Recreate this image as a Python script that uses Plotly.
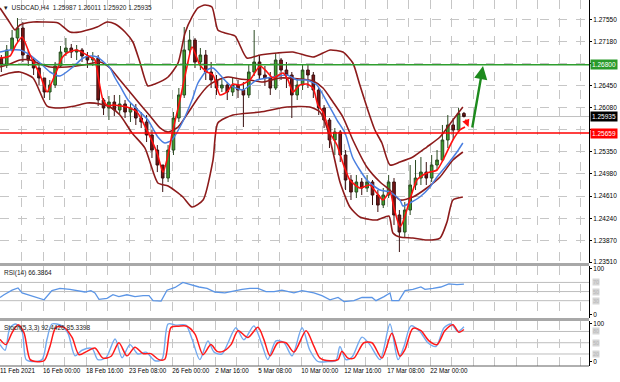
import plotly.graph_objects as go

FONT = "Liberation Sans"

# ---------------- price candles (2 x H4 per candle, bar index in H4 units) ----------------
N_CANDLES = 87
CANDLE_BAR = [0.5 + 2 * j for j in range(N_CANDLES)]
FIRST_OPEN = 1.26910
CLOSE = [1.26794, 1.27044, 1.27244, 1.27410, 1.26960, 1.26877, 1.26744, 1.26577, 1.26344, 1.26460,
         1.26777, 1.27010, 1.27077, 1.27010, 1.27044, 1.26944, 1.26877, 1.26910, 1.26210, 1.26077,
         1.26177, 1.26044, 1.26144, 1.26010, 1.26077, 1.25910, 1.25844, 1.25627, 1.25377, 1.25127,
         1.24910, 1.25377, 1.25910, 1.26294, 1.27044, 1.27210, 1.26844, 1.26960, 1.26677, 1.26544,
         1.26410, 1.26460, 1.26344, 1.26460, 1.26377, 1.26294, 1.26677, 1.26844, 1.26627, 1.26577,
         1.26410, 1.26877, 1.26710, 1.26627, 1.26294, 1.26460, 1.26710, 1.26627, 1.26377, 1.26077,
         1.25877, 1.25544, 1.25677, 1.25294, 1.24877, 1.24677, 1.24844, 1.24744, 1.24844, 1.24627,
         1.24460, 1.24627, 1.24844, 1.24294, 1.24010, 1.24377, 1.24794, 1.24910, 1.25010, 1.24910,
         1.25127, 1.25210, 1.25544, 1.25794, 1.25710, 1.25987, 1.25935]
HIGH = [1.26960, 1.27127, 1.27377, 1.27577, 1.27510, 1.27044, 1.26910, 1.26794, 1.26577, 1.26544,
        1.26844, 1.27110, 1.27244, 1.27144, 1.27127, 1.27077, 1.27010, 1.27010, 1.26960, 1.26244,
        1.26277, 1.26294, 1.26294, 1.26210, 1.26177, 1.26144, 1.26010, 1.25960, 1.25710, 1.25460,
        1.25127, 1.25460, 1.26010, 1.26410, 1.27427, 1.27377, 1.27244, 1.27077, 1.27044, 1.26844,
        1.26627, 1.26577, 1.26510, 1.26577, 1.26544, 1.26510, 1.26794, 1.27377, 1.26960, 1.26777,
        1.26677, 1.26994, 1.26910, 1.26844, 1.26677, 1.26577, 1.26794, 1.26794, 1.26677, 1.26410,
        1.26127, 1.25910, 1.25744, 1.25710, 1.25377, 1.24960, 1.24960, 1.24910, 1.24960, 1.24877,
        1.24710, 1.24744, 1.24960, 1.24910, 1.24377, 1.24510, 1.25127, 1.25210, 1.25260, 1.25177,
        1.25294, 1.25377, 1.25794, 1.25960, 1.25910, 1.26077, 1.26011]
LOW = [1.26677, 1.26744, 1.27010, 1.27177, 1.26844, 1.26777, 1.26627, 1.26460, 1.26244, 1.26210,
       1.26410, 1.26744, 1.26944, 1.26910, 1.26877, 1.26844, 1.26744, 1.26777, 1.26110, 1.25960,
       1.25877, 1.25944, 1.25977, 1.25910, 1.25844, 1.25794, 1.25744, 1.25510, 1.25244, 1.25010,
       1.24677, 1.24844, 1.25294, 1.25844, 1.26244, 1.26960, 1.26744, 1.26710, 1.26544, 1.26410,
       1.26294, 1.26344, 1.26210, 1.26277, 1.26244, 1.25760, 1.26244, 1.26610, 1.26544, 1.26444,
       1.26294, 1.26377, 1.26544, 1.26410, 1.25910, 1.26210, 1.26377, 1.26410, 1.26244, 1.25960,
       1.25744, 1.25410, 1.25294, 1.25177, 1.24710, 1.24544, 1.24577, 1.24627, 1.24677, 1.24460,
       1.24344, 1.24410, 1.24577, 1.24127, 1.23677, 1.23910, 1.24294, 1.24710, 1.24794, 1.24794,
       1.24844, 1.25044, 1.25177, 1.25410, 1.25544, 1.25710, 1.25920]
OPEN = [FIRST_OPEN] + CLOSE[:-1]

# ---------------- Bollinger bands & moving averages ----------------
UPPER_BAR = [0, 3, 5.6, 7.4, 12.3, 16, 21.6, 26, 29.7, 36.1, 39.8, 42.8, 46.5, 49.4, 52, 55, 57.6, 62.5,
             66.2, 68.8, 71.4, 73.6, 76.2, 78.8, 81, 83.6, 87.4, 91.8, 96.7, 103, 108.9, 116.4, 120.1,
             122.7, 127.5, 131.2, 133.8, 136.4, 139.4, 142, 145, 148.7, 153.5, 158.7, 163.6, 168.4, 172.1]
UPPER = [1.27744, 1.27544, 1.27377, 1.27460, 1.27510, 1.27510, 1.27494, 1.27344, 1.27344, 1.27427,
         1.27510, 1.27477, 1.27344, 1.27177, 1.26844, 1.26444, 1.26477, 1.26594, 1.26827, 1.27327,
         1.27594, 1.27744, 1.27794, 1.27760, 1.27377, 1.27327, 1.27277, 1.26910, 1.26960, 1.26994,
         1.27010, 1.26927, 1.26994, 1.27044, 1.27010, 1.26827, 1.26460, 1.26094, 1.25710, 1.25494,
         1.25127, 1.25177, 1.25260, 1.25427, 1.25594, 1.25877, 1.26094]

MIDDLE_BAR = [0, 3.7, 7.4, 11.2, 14.9, 18.6, 24.9, 30.9, 37.2, 40.9, 44.6, 48.3, 52, 55.8, 59.5, 62.5,
              66.2, 69.9, 73.6, 77.3, 81, 84.8, 89.2, 92.9, 97.8, 104.1, 111.5, 116.4, 120.1, 123.8,
              127.5, 131.2, 136.4, 141.3, 145, 148.7, 153.5, 158.7, 163.6, 168.4, 172.1]
MIDDLE = [1.26760, 1.26810, 1.26877, 1.26877, 1.26810, 1.26760, 1.26760, 1.26794, 1.26844, 1.26744,
          1.26544, 1.26344, 1.26144, 1.25944, 1.25744, 1.25677, 1.25760, 1.25994, 1.26244, 1.26444,
          1.26544, 1.26594, 1.26560, 1.26544, 1.26510, 1.26577, 1.26560, 1.26527, 1.26410, 1.26177,
          1.25927, 1.25544, 1.25094, 1.24844, 1.24710, 1.24544, 1.24594, 1.24744, 1.24927, 1.25210,
          1.25344]

LOWER_BAR = [0, 3.7, 7.4, 12.3, 17.5, 22.3, 27.9, 32.3, 37.2, 40.9, 44.6, 49.1, 53.9, 58.7, 62.5, 68,
             71.4, 75.5, 79.2, 81, 86.6, 96.7, 106.7, 115.2, 119, 121.6, 123.8, 126.4, 130.1, 133.8,
             140.1, 144.6, 146.1, 148.7, 153.5, 158.7, 163.6, 166.2, 168.4, 172.1]
LOWER = [1.26610, 1.26660, 1.26677, 1.26577, 1.26110, 1.26077, 1.26110, 1.26160, 1.26144, 1.26094,
         1.25960, 1.25660, 1.25410, 1.24827, 1.24777, 1.24594, 1.24427, 1.24544, 1.25210, 1.25827,
         1.25960, 1.26010, 1.26094, 1.26094, 1.26010, 1.25744, 1.25344, 1.24844, 1.24427, 1.24260,
         1.24210, 1.24277, 1.23994, 1.23927, 1.23910, 1.23877, 1.23910, 1.24177, 1.24544, 1.24594]

BLUE_BAR = [0, 3.7, 7.4, 11.2, 14.9, 18.6, 22.3, 27.1, 30.9, 33.5, 36.1, 40.9, 42.8, 44.6, 47.6, 51.3,
            55, 58.7, 61.3, 63.9, 67.7, 71.4, 73.6, 77, 79.2, 82.5, 85.5, 90.3, 95.5, 101.5, 106.7,
            110.4, 114.1, 117.8, 121.6, 125.3, 128.3, 131.2, 136.4, 141.3, 145, 148.7, 149.8, 152.4,
            156.1, 159.9, 162.5, 166.2, 169.9, 172.1]
BLUE_MA = [1.27010, 1.27044, 1.27044, 1.26960, 1.26827, 1.26677, 1.26610, 1.26760, 1.26910, 1.26944,
           1.26927, 1.26744, 1.26577, 1.26444, 1.26210, 1.26044, 1.25877, 1.25594, 1.25494, 1.25544,
           1.25827, 1.26210, 1.26494, 1.26710, 1.26744, 1.26594, 1.26460, 1.26377, 1.26544, 1.26594,
           1.26627, 1.26544, 1.26544, 1.26460, 1.26177, 1.25877, 1.25660, 1.25244, 1.24877, 1.24710,
           1.24677, 1.24544, 1.24444, 1.24494, 1.24594, 1.24760, 1.24927, 1.25127, 1.25344, 1.25494]

RED_BAR = [0, 3.7, 5.9, 8.2, 11.2, 14.9, 17.5, 19.3, 21.2, 23, 24.9, 28.6, 33.5, 35.3, 36.4, 38.3, 40.1,
           42, 47.2, 50.9, 54.6, 58.4, 60.6, 62.5, 63.9, 66.9, 69.5, 71.4, 74.3, 77, 79.2, 81.8, 84.4,
           86.6, 89.2, 92.9, 96.7, 99.3, 101.5, 105.2, 107.1, 108.9, 111.5, 114.1, 116.4, 118.2, 120.1,
           122.7, 125.3, 127.5, 130.1, 133.8, 137.5, 140.1, 142.4, 145, 146.5, 148.7, 149.8, 152.4,
           155, 158.7, 162.5, 164.7, 168.4, 171, 172.9]
RED_MA = [1.26910, 1.26944, 1.27127, 1.27260, 1.26960, 1.26627, 1.26344, 1.26510, 1.26710, 1.26910,
          1.26994, 1.27044, 1.26927, 1.26877, 1.26627, 1.26210, 1.26110, 1.26127, 1.26094, 1.26010,
          1.25710, 1.25327, 1.25010, 1.25294, 1.25627, 1.26210, 1.26760, 1.27094, 1.26794, 1.26677,
          1.26627, 1.26294, 1.26344, 1.26477, 1.26460, 1.26544, 1.26777, 1.26677, 1.26577, 1.26660,
          1.26544, 1.26344, 1.26460, 1.26477, 1.26410, 1.26127, 1.26010, 1.25660, 1.25460, 1.25160,
          1.24877, 1.24744, 1.24794, 1.24660, 1.24544, 1.24677, 1.24410, 1.24094, 1.24177, 1.24544,
          1.24877, 1.24994, 1.25044, 1.25210, 1.25544, 1.25710, 1.25760]

GREEN_LEVEL = 1.26800
RED_LEVEL = 1.25659
LAST_PRICE = 1.25935

# ---------------- RSI(14) ----------------
RSI_BAR = [0, 1.5, 4.5, 6.7, 8.2, 11.9, 16.4, 19.3, 22.3, 26, 29.7, 31.6, 33.8, 35.3, 36.8, 39.8, 42,
           44.2, 47.2, 50.2, 53.2, 55.4, 56.9, 59.9, 62.1, 65.1, 68, 71, 74, 77, 79.9, 83.6, 87, 90,
           92.9, 95.9, 98.9, 101.9, 104.8, 109.3, 112.3, 116.7, 119.7, 122.7, 125.7, 127.9, 131.6,
           134.6, 138.3, 139.8, 142.8, 145, 145.7, 148.3, 150.6, 153.5, 156.5, 158, 161, 163.9, 166.9,
           169.9, 172.5]
RSI = [37, 43, 53, 58, 47, 40, 32, 52, 57, 55, 51, 49, 52, 47, 33, 35, 43, 39, 43, 39, 41, 41, 30, 29,
       53, 59, 70, 65, 60, 57, 49, 47, 52, 55, 57, 57, 50, 50, 53, 47, 52, 47, 41, 32, 37, 28, 30, 37,
       37, 30, 39, 47, 30, 30, 52, 55, 60, 55, 57, 60, 67, 65, 66.3864]
RSI_LEVELS = [70, 50, 30]

# ---------------- Stochastic(5,3,3) ----------------
STOCH_K_BAR = [0, 1.9, 3.7, 5.9, 8.2, 9.7, 11.9, 15.6, 17.5, 19.3, 23, 25.3, 27.9, 30.5, 34.2, 36.4,
               39.4, 42.8, 45.4, 48.3, 51.3, 54.3, 57.6, 60.2, 62.5, 65.4, 69.1, 71.4, 74.3, 77.3, 79.6,
               82.5, 84.8, 87.7, 90.7, 94.4, 97.4, 99.6, 102.6, 105.6, 108.6, 112.3, 115.2, 118.2,
               121.9, 124.9, 126.4, 128.6, 130.9, 134.6, 137.5, 141.3, 145, 148, 150.2, 152.8, 156.1,
               159.1, 162.1, 165.1, 167.7, 170.3, 172.5]
STOCH_K = [45, 30, 90, 100, 80, 5, 0, 5, 60, 100, 95, 75, 15, 30, 35, 5, 10, 60, 10, 45, 20, 25, 2, 5,
           100, 97, 97, 60, 5, 55, 25, 20, 50, 90, 58, 95, 45, 5, 55, 50, 15, 90, 30, 0, 0, 3, 40, 5,
           12, 65, 45, 5, 100, 5, 40, 95, 80, 50, 40, 90, 100, 80, 92.4426]
STOCH_D_BAR = [0, 2.2, 4.5, 6.7, 8.9, 11.2, 13.4, 16.4, 18.6, 20.8, 23.8, 26.8, 29.4, 32.3, 35.3, 38.3,
               41.3, 44.2, 47.2, 50.2, 53.2, 56.1, 59.1, 61.3, 63.6, 66.5, 69.5, 72.5, 75.5, 78.4, 80.7,
               82.9, 85.9, 88.5, 92.2, 95.9, 98.1, 100.4, 103.3, 106.3, 109.3, 113.8, 116.7, 119, 122.7,
               125.7, 127.1, 129.4, 131.6, 135.3, 138.3, 142, 145.7, 148.7, 150.6, 153.5, 156.5, 159.5,
               162.5, 165.4, 168.4, 170.6, 172.5]
STOCH_D = [59, 45, 77, 98, 77, 5, 0, 2, 41, 91, 91, 64, 18, 27, 36, 9, 14, 50, 15, 38, 21, 21, 5, 6, 91,
           94, 94, 73, 18, 45, 27, 27, 45, 82, 64, 91, 59, 15, 50, 50, 25, 82, 41, 9, 2, 5, 27, 9, 9, 50,
           50, 9, 75, 14, 32, 88, 82, 55, 45, 82, 98, 78, 85.3398]
STOCH_LEVELS = [80, 50, 20]

# ---------------- axes labels ----------------
PRICE_TICKS = [1.27550, 1.27180, 1.26815, 1.26450, 1.26080, 1.25715, 1.25350, 1.24980, 1.24610,
               1.24240, 1.23870, 1.23510]
PRICE_TICKTEXT = ["1.27550", "1.27180", "", "1.26450", "1.26080", "", "1.25350", "1.24980",
                  "1.24610", "1.24240", "1.23870", "1.23510"]
DATE_TICKS = [0, 16, 32, 48, 64, 80, 96, 112, 128, 144, 160]
DATE_LABELS = ["11 Feb 2021", "16 Feb 00:00", "18 Feb 16:00", "23 Feb 08:00", "26 Feb 00:00",
               "2 Mar 16:00", "5 Mar 08:00", "10 Mar 00:00", "12 Mar 16:00", "17 Mar 08:00",
               "22 Mar 00:00"]

X_RANGE = [0, 219]
PRICE_RANGE = [1.23494, 1.27877]

GRID = "#c6c6c6"
fig = go.Figure()

fig.add_trace(go.Candlestick(
    x=CANDLE_BAR, open=OPEN, high=HIGH, low=LOW, close=CLOSE,
    xaxis="x", yaxis="y", whiskerwidth=0, hoverinfo="skip", showlegend=False,
    increasing=dict(line=dict(color="#2b4a22", width=1), fillcolor="#3fa12e"),
    decreasing=dict(line=dict(color="#3a1010", width=1), fillcolor="#7a1515"),
))

def line(xs, ys, color, width, ax="x", ay="y", shape="spline", smooth=0.6):
    fig.add_trace(go.Scatter(x=xs, y=ys, mode="lines", xaxis=ax, yaxis=ay, hoverinfo="skip",
                             showlegend=False, line=dict(color=color, width=width, shape=shape,
                                                         smoothing=smooth if shape == "spline" else None)))

BAND = "#8c1b1b"
line(UPPER_BAR, UPPER, BAND, 1.6)
line(MIDDLE_BAR, MIDDLE, BAND, 1.6)
line(LOWER_BAR, LOWER, BAND, 1.6)
line(BLUE_BAR, BLUE_MA, "#4a7fe0", 1.5)
line(RED_BAR, RED_MA, "#ff1010", 1.6)

line(RSI_BAR, RSI, "#5b95e6", 1.3, "x2", "y2", "linear")
line(STOCH_K_BAR, STOCH_K, "#73a9ee", 1.4, "x3", "y3", "spline", 0.8)
line(STOCH_D_BAR, STOCH_D, "#ff1a1a", 1.5, "x3", "y3", "spline", 0.8)

# horizontal levels
fig.add_hline(y=LAST_PRICE, line=dict(color="#c0c0c0", width=1), yref="y", layer="below")
fig.add_hline(y=GREEN_LEVEL, line=dict(color="#2e9e2e", width=1.5), yref="y")
fig.add_hline(y=RED_LEVEL, line=dict(color="#ff0000", width=1.5), yref="y")
for lv in RSI_LEVELS:
    fig.add_hline(y=lv, line=dict(color="#bdbdbd", width=1), yref="y2", layer="below")
for lv in STOCH_LEVELS:
    fig.add_hline(y=lv, line=dict(color="#bdbdbd", width=1), yref="y3", layer="below")

# arrows
fig.add_annotation(x=179.6, y=1.26777, ax=175.5, ay=1.25727, xref="x", yref="y", axref="x", ayref="y",
                   showarrow=True, arrowhead=2, arrowsize=1.1, arrowwidth=2.4, arrowcolor="#1d8a1d", text="")
fig.add_annotation(x=174.2, y=1.25760, ax=172.9, ay=1.25910, xref="x", yref="y", axref="x", ayref="y",
                   showarrow=True, arrowhead=2, arrowsize=1, arrowwidth=1.5, arrowcolor="#ff1010", text="")

# price boxes on the right axis
for val, bg in [(GREEN_LEVEL, "#2a9a2a"), (LAST_PRICE, "#000000"), (RED_LEVEL, "#ff0000")]:
    fig.add_annotation(x=1, xref="paper", y=val, yref="y", text=f"{val:.5f}", showarrow=False,
                       xanchor="left", xshift=1, bgcolor=bg, borderpad=1,
                       font=dict(color="white", size=6.5, family=FONT))

# level boxes on indicator axes
for lv in RSI_LEVELS:
    fig.add_annotation(x=1, xref="paper", y=lv, yref="y2", text=str(lv), showarrow=False,
                       xanchor="left", xshift=3, bgcolor="#d6d6d6", borderpad=0,
                       font=dict(color="#b8b8b8", size=5.5, family=FONT))
for lv in STOCH_LEVELS:
    fig.add_annotation(x=1, xref="paper", y=lv, yref="y3", text=str(lv), showarrow=False,
                       xanchor="left", xshift=3, bgcolor="#d6d6d6", borderpad=0,
                       font=dict(color="#b8b8b8", size=5.5, family=FONT))

# panel titles
TXT = dict(family=FONT, size=6.5, color="#222222")
fig.add_annotation(x=0.004, y=0.995, xref="paper", yref="paper", xanchor="left", yanchor="top",
                   text="▾  USDCAD,H4  1.25987 1.26011 1.25920 1.25935", showarrow=False, font=TXT)
fig.add_annotation(x=0.004, y=0.2732, xref="paper", yref="paper", xanchor="left", yanchor="top",
                   text="RSI(14) 66.3864", showarrow=False, font=TXT, yshift=-1)
fig.add_annotation(x=0.004, y=0.1230, xref="paper", yref="paper", xanchor="left", yanchor="top",
                   text="Stoch(5,3,3) 92.4426 85.3398", showarrow=False, font=TXT, yshift=-1)

# panel separators
for y0, y1 in [(0.2732, 0.2814), (0.1230, 0.1311)]:
    fig.add_shape(type="rect", xref="paper", yref="paper", x0=0, x1=1, y0=y0, y1=y1,
                  fillcolor="#a8a8a8", line=dict(width=0))
fig.add_shape(type="line", xref="paper", yref="paper", x0=0, x1=1, y0=0, y1=0,
              line=dict(color="#606060", width=1))

xcommon = dict(range=X_RANGE, showgrid=True, gridcolor=GRID, griddash="dash", gridwidth=1,
               zeroline=False, showline=False, fixedrange=True)
ycommon = dict(side="right", zeroline=False, showline=True, linecolor="#000000", linewidth=1,
               ticks="outside", ticklen=2, tickcolor="#000000",
               tickfont=dict(family=FONT, size=6.5, color="#000000"))

fig.update_layout(
    width=620, height=382, margin=dict(l=0, r=31, t=0, b=16, autoexpand=False),
    paper_bgcolor="white", plot_bgcolor="white", showlegend=False,
    xaxis=dict(**xcommon, anchor="y", tickmode="linear", tick0=0, dtick=8, showticklabels=False,
               rangeslider=dict(visible=False)),
    xaxis2=dict(**xcommon, anchor="y2", matches="x", tickmode="linear", tick0=0, dtick=8,
                showticklabels=False),
    xaxis3=dict(**xcommon, anchor="y3", matches="x", tickmode="array", tickvals=DATE_TICKS,
                ticktext=DATE_LABELS, ticklabelposition="outside right", ticks="", tickangle=0,
                tickfont=dict(family=FONT, size=6.3, color="#000000"),
                minor=dict(tick0=0, dtick=8, showgrid=True, gridcolor=GRID, griddash="dash")),
    yaxis=dict(**ycommon, domain=[0.2814, 1], range=PRICE_RANGE, tickmode="array",
               tickvals=PRICE_TICKS, ticktext=PRICE_TICKTEXT, showgrid=True, gridcolor=GRID,
               griddash="dash"),
    yaxis2=dict(**ycommon, domain=[0.1311, 0.2732], range=[-8, 106], tickmode="array",
                tickvals=[0, 100], showgrid=False),
    yaxis3=dict(**ycommon, domain=[0, 0.1230], range=[-12, 108], tickmode="array",
                tickvals=[0, 100], showgrid=False),
)

fig.write_html("out.html", config={"displayModeBar": False},
               post_script="document.body.style.margin='0';document.body.style.overflow='hidden';")
